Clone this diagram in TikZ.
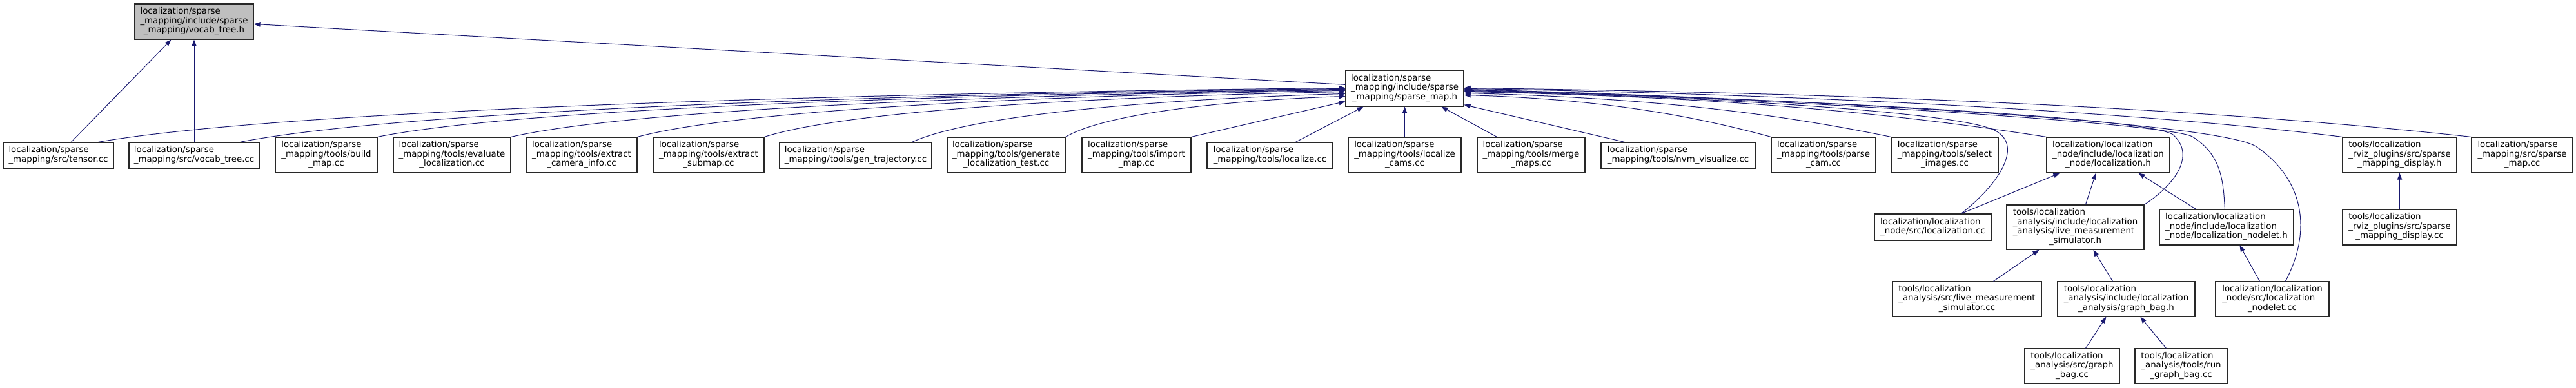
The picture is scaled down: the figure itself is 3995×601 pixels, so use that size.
\documentclass[tikz,border=0pt]{standalone}
\usepackage{fontspec}
\setmainfont{DejaVu Sans}
\usetikzlibrary{arrows.meta,calc}
\definecolor{edgeblue}{RGB}{25,25,112}
\definecolor{boxline}{RGB}{40,40,40}
\definecolor{curfill}{RGB}{191,191,191}
\newcommand{\flines}[1]{\begin{tabular}{@{}l@{}}#1\end{tabular}}
\newcommand{\lastl}[1]{\multicolumn{1}{@{}c@{}}{#1}}
\tikzset{
  filebox/.style={draw=boxline, line width=0.9pt, fill=white, inner sep=0pt, font=\fontsize{10}{10.9}\selectfont},
  curbox/.style={filebox, fill=curfill},
  two/.style={minimum height=30pt},
  three/.style={minimum height=41.25pt},
  dep/.style={draw=edgeblue, line width=0.75pt, -{Triangle[length=7.5pt,width=5.5pt,fill=edgeblue]}}
}
\begin{document}
\begin{tikzpicture}[x=0.75pt,y=0.75pt,yscale=-1]
\useasboundingbox (0,0) rectangle (3995,601);

% header and its direct includer
\node[curbox, three, minimum width=138pt] (vtree_h) at (301,33.5) {\flines{localization/sparse\\\_mapping/include/sparse\\\lastl{\_mapping/vocab\_tree.h}}};
\node[filebox, minimum height=42pt, minimum width=137.25pt] (smap_h) at (2178.5,137) {\flines{localization/sparse\\\_mapping/include/sparse\\\lastl{\_mapping/sparse\_map.h}}};

% row of sources
\node[filebox, two, minimum width=128.25pt] (tensor) at (90.5,241) {\flines{localization/sparse\\\lastl{\_mapping/src/tensor.cc}}};
\node[filebox, two, minimum width=151.5pt] (vtree_cc) at (301,241) {\flines{localization/sparse\\\lastl{\_mapping/src/vocab\_tree.cc}}};
\node[filebox, three, minimum width=118.5pt] (build_map) at (506,240.5) {\flines{localization/sparse\\\_mapping/tools/build\\\lastl{\_map.cc}}};
\node[filebox, three, minimum width=136.5pt] (evaluate) at (701,240.5) {\flines{localization/sparse\\\_mapping/tools/evaluate\\\lastl{\_localization.cc}}};
\node[filebox, three, minimum width=129pt] (camera_info) at (902,240.5) {\flines{localization/sparse\\\_mapping/tools/extract\\\lastl{\_camera\_info.cc}}};
\node[filebox, three, minimum width=129pt] (submap) at (1099,240.5) {\flines{localization/sparse\\\_mapping/tools/extract\\\lastl{\_submap.cc}}};
\node[filebox, two, minimum width=177pt] (gen_traj) at (1327,241) {\flines{localization/sparse\\\lastl{\_mapping/tools/gen\_trajectory.cc}}};
\node[filebox, three, minimum width=137.25pt] (gen_test) at (1560.5,240.5) {\flines{localization/sparse\\\_mapping/tools/generate\\\lastl{\_localization\_test.cc}}};
\node[filebox, three, minimum width=126.75pt] (import) at (1762.5,240.5) {\flines{localization/sparse\\\_mapping/tools/import\\\lastl{\_map.cc}}};
\node[filebox, two, minimum width=146.25pt] (localize) at (1969.5,241) {\flines{localization/sparse\\\lastl{\_mapping/tools/localize.cc}}};
\node[filebox, three, minimum width=131.25pt] (loc_cams) at (2178.5,240.5) {\flines{localization/sparse\\\_mapping/tools/localize\\\lastl{\_cams.cc}}};
\node[filebox, three, minimum width=125.25pt] (merge) at (2374.5,240.5) {\flines{localization/sparse\\\_mapping/tools/merge\\\lastl{\_maps.cc}}};
\node[filebox, two, minimum width=179.25pt] (nvm) at (2602.5,241) {\flines{localization/sparse\\\lastl{\_mapping/tools/nvm\_visualize.cc}}};
\node[filebox, three, minimum width=121.5pt] (parse_cam) at (2828,240.5) {\flines{localization/sparse\\\_mapping/tools/parse\\\lastl{\_cam.cc}}};
\node[filebox, three, minimum width=124.5pt] (select) at (3016,240.5) {\flines{localization/sparse\\\_mapping/tools/select\\\lastl{\_images.cc}}};
\node[filebox, three, minimum width=143.25pt] (loc_h) at (3269.5,240.5) {\flines{localization/localization\\\_node/include/localization\\\lastl{\_node/localization.h}}};
\node[filebox, three, minimum width=132.75pt] (disp_h) at (3721.5,240.5) {\flines{tools/localization\\\_rviz\_plugins/src/sparse\\\lastl{\_mapping\_display.h}}};
\node[filebox, three, minimum width=117.75pt] (smap_cc) at (3911.5,240.5) {\flines{localization/sparse\\\_mapping/src/sparse\\\lastl{\_map.cc}}};

% lower levels
\node[filebox, minimum height=30.75pt, minimum width=135.75pt] (loc_cc) at (2997.5,352.5) {\flines{localization/localization\\\lastl{\_node/src/localization.cc}}};
\node[filebox, minimum height=51.75pt, minimum width=159.75pt] (live_h) at (3218.5,352.5) {\flines{tools/localization\\\_analysis/include/localization\\\_analysis/live\_measurement\\\lastl{\_simulator.h}}};
\node[filebox, three, minimum width=156pt] (nodelet_h) at (3453,352.5) {\flines{localization/localization\\\_node/include/localization\\\lastl{\_node/localization\_nodelet.h}}};
\node[filebox, three, minimum width=132.75pt] (disp_cc) at (3721.5,352.5) {\flines{tools/localization\\\_rviz\_plugins/src/sparse\\\lastl{\_mapping\_display.cc}}};
\node[filebox, minimum height=40.5pt, minimum width=173.25pt] (live_cc) at (3050.5,464) {\flines{tools/localization\\\_analysis/src/live\_measurement\\\lastl{\_simulator.cc}}};
\node[filebox, minimum height=40.5pt, minimum width=159.75pt] (bag_h) at (3297.5,464) {\flines{tools/localization\\\_analysis/include/localization\\\lastl{\_analysis/graph\_bag.h}}};
\node[filebox, minimum height=40.5pt, minimum width=132pt] (nodelet_cc) at (3524,464) {\flines{localization/localization\\\_node/src/localization\\\lastl{\_nodelet.cc}}};
\node[filebox, minimum height=40.5pt, minimum width=110.25pt] (bag_cc) at (3213.5,568) {\flines{tools/localization\\\_analysis/src/graph\\\lastl{\_bag.cc}}};
\node[filebox, minimum height=40.5pt, minimum width=107.25pt] (run_bag) at (3382.5,568) {\flines{tools/localization\\\_analysis/tools/run\\\lastl{\_graph\_bag.cc}}};

% includes of vocab_tree.h
\draw[dep] ($(tensor.north west)+(106,0)$) -- ($(vtree_h.south west)+(57,0)$);
\draw[dep] (vtree_cc.north) -- (vtree_h.south);
\draw[dep] ($(smap_h.north west)+(0,23)$) -- ($(vtree_h.north east)+(0,32)$);

% includes of sparse_map.h, left side
\draw[dep] ($(tensor.north west)+(148,0)$) .. controls +(290,-50) and +(-774,8) .. ($(smap_h.north west)+(0,28)$);
\draw[dep] ($(vtree_cc.north west)+(173,0)$) .. controls +(257,-50) and +(-686,8) .. ($(smap_h.north west)+(0,29)$);
\draw[dep] (build_map.north east) .. controls +(225,-45) and +(-600,8) .. ($(smap_h.north west)+(0,30)$);
\draw[dep] (evaluate.north east) .. controls +(194,-44) and +(-518,7) .. ($(smap_h.north west)+(0,31)$);
\draw[dep] (camera_info.north east) .. controls +(165,-44) and +(-440,7) .. ($(smap_h.north west)+(0,32)$);
\draw[dep] (submap.north east) .. controls +(135,-43) and +(-361,7) .. ($(smap_h.north west)+(0,34)$);
\draw[dep] ($(gen_traj.north west)+(206,0)$) .. controls +(100,-45) and +(-269,8) .. ($(smap_h.north west)+(0,37)$);
\draw[dep] (gen_test.north east) .. controls +(65,-38) and +(-174,6) .. ($(smap_h.north west)+(0,41)$);
\draw[dep] (import.north east) -- ($(smap_h.north west)+(0,49)$);
\draw[dep] ($(localize.north west)+(138,0)$) -- ($(smap_h.south west)+(28,0)$);
\draw[dep] (loc_cams.north) -- (loc_cams.north |- smap_h.south);
\draw[dep] ($(merge.north west)+(31,0)$) -- ($(smap_h.south west)+(149,0)$);
\draw[dep] ($(nvm.north west)+(37,0)$) -- ($(smap_h.south east)+(0,-3)$);

% includes of sparse_map.h, right side
\draw[dep] (parse_cam.north west) .. controls +(-143,-39) and +(191,6) .. ($(smap_h.north east)+(0,39)$);
\draw[dep] (select.north west) .. controls +(-199,-41) and +(265,7) .. ($(smap_h.north east)+(0,36)$);
\draw[dep] (loc_h.north west) .. controls +(-271,-42) and +(362,7) .. ($(smap_h.north east)+(0,34)$);
\draw[dep] ($(loc_cc.north west)+(135,0)$) .. controls (3095,290) and (3140,228) .. (3095,203) .. controls (3040,172) and (2600,148) .. ($(smap_h.north east)+(0,33)$);
\draw[dep] (live_h.north east) .. controls (3375,285) and (3405,240) .. (3370,209) .. controls (3330,180) and (2700,150) .. ($(smap_h.north east)+(0,32)$);
\draw[dep] ($(nodelet_h.north west)+(102,0)$) .. controls (3448,280) and (3445,240) .. (3400,212) .. controls (3360,190) and (2700,150) .. ($(smap_h.north east)+(0,31)$);
\draw[dep] ($(nodelet_cc.north west)+(109,0)$) .. controls (3585,360) and (3575,280) .. (3500,228) .. controls (3440,186) and (2700,150) .. ($(smap_h.north east)+(0,30)$);
\draw[dep] (disp_h.north west) .. controls +(-340,-42) and +(480,8) .. ($(smap_h.north east)+(0,29)$);
\draw[dep] (smap_cc.north west) .. controls +(-420,-46) and +(600,8) .. ($(smap_h.north east)+(0,28)$);

% lower includes
\draw[dep] ($(loc_cc.north west)+(135,0)$) -- ($(loc_h.south west)+(21,0)$);
\draw[dep] ($(live_h.north west)+(123,0)$) -- ($(loc_h.south west)+(77,0)$);
\draw[dep] ($(nodelet_h.north west)+(57,0)$) -- ($(loc_h.south west)+(143,0)$);
\draw[dep] ($(nodelet_cc.north west)+(69,0)$) -- ($(nodelet_h.south west)+(125,0)$);
\draw[dep] ($(live_cc.north west)+(157,0)$) -- ($(live_h.south west)+(51,0)$);
\draw[dep] ($(bag_h.north west)+(86,0)$) -- ($(live_h.south west)+(135,0)$);
\draw[dep] ($(bag_cc.north west)+(95,0)$) -- ($(bag_h.south west)+(76,0)$);
\draw[dep] ($(run_bag.north west)+(49,0)$) -- ($(bag_h.south west)+(129,0)$);
\draw[dep] (disp_cc.north) -- (disp_h.south);

\end{tikzpicture}
\end{document}
